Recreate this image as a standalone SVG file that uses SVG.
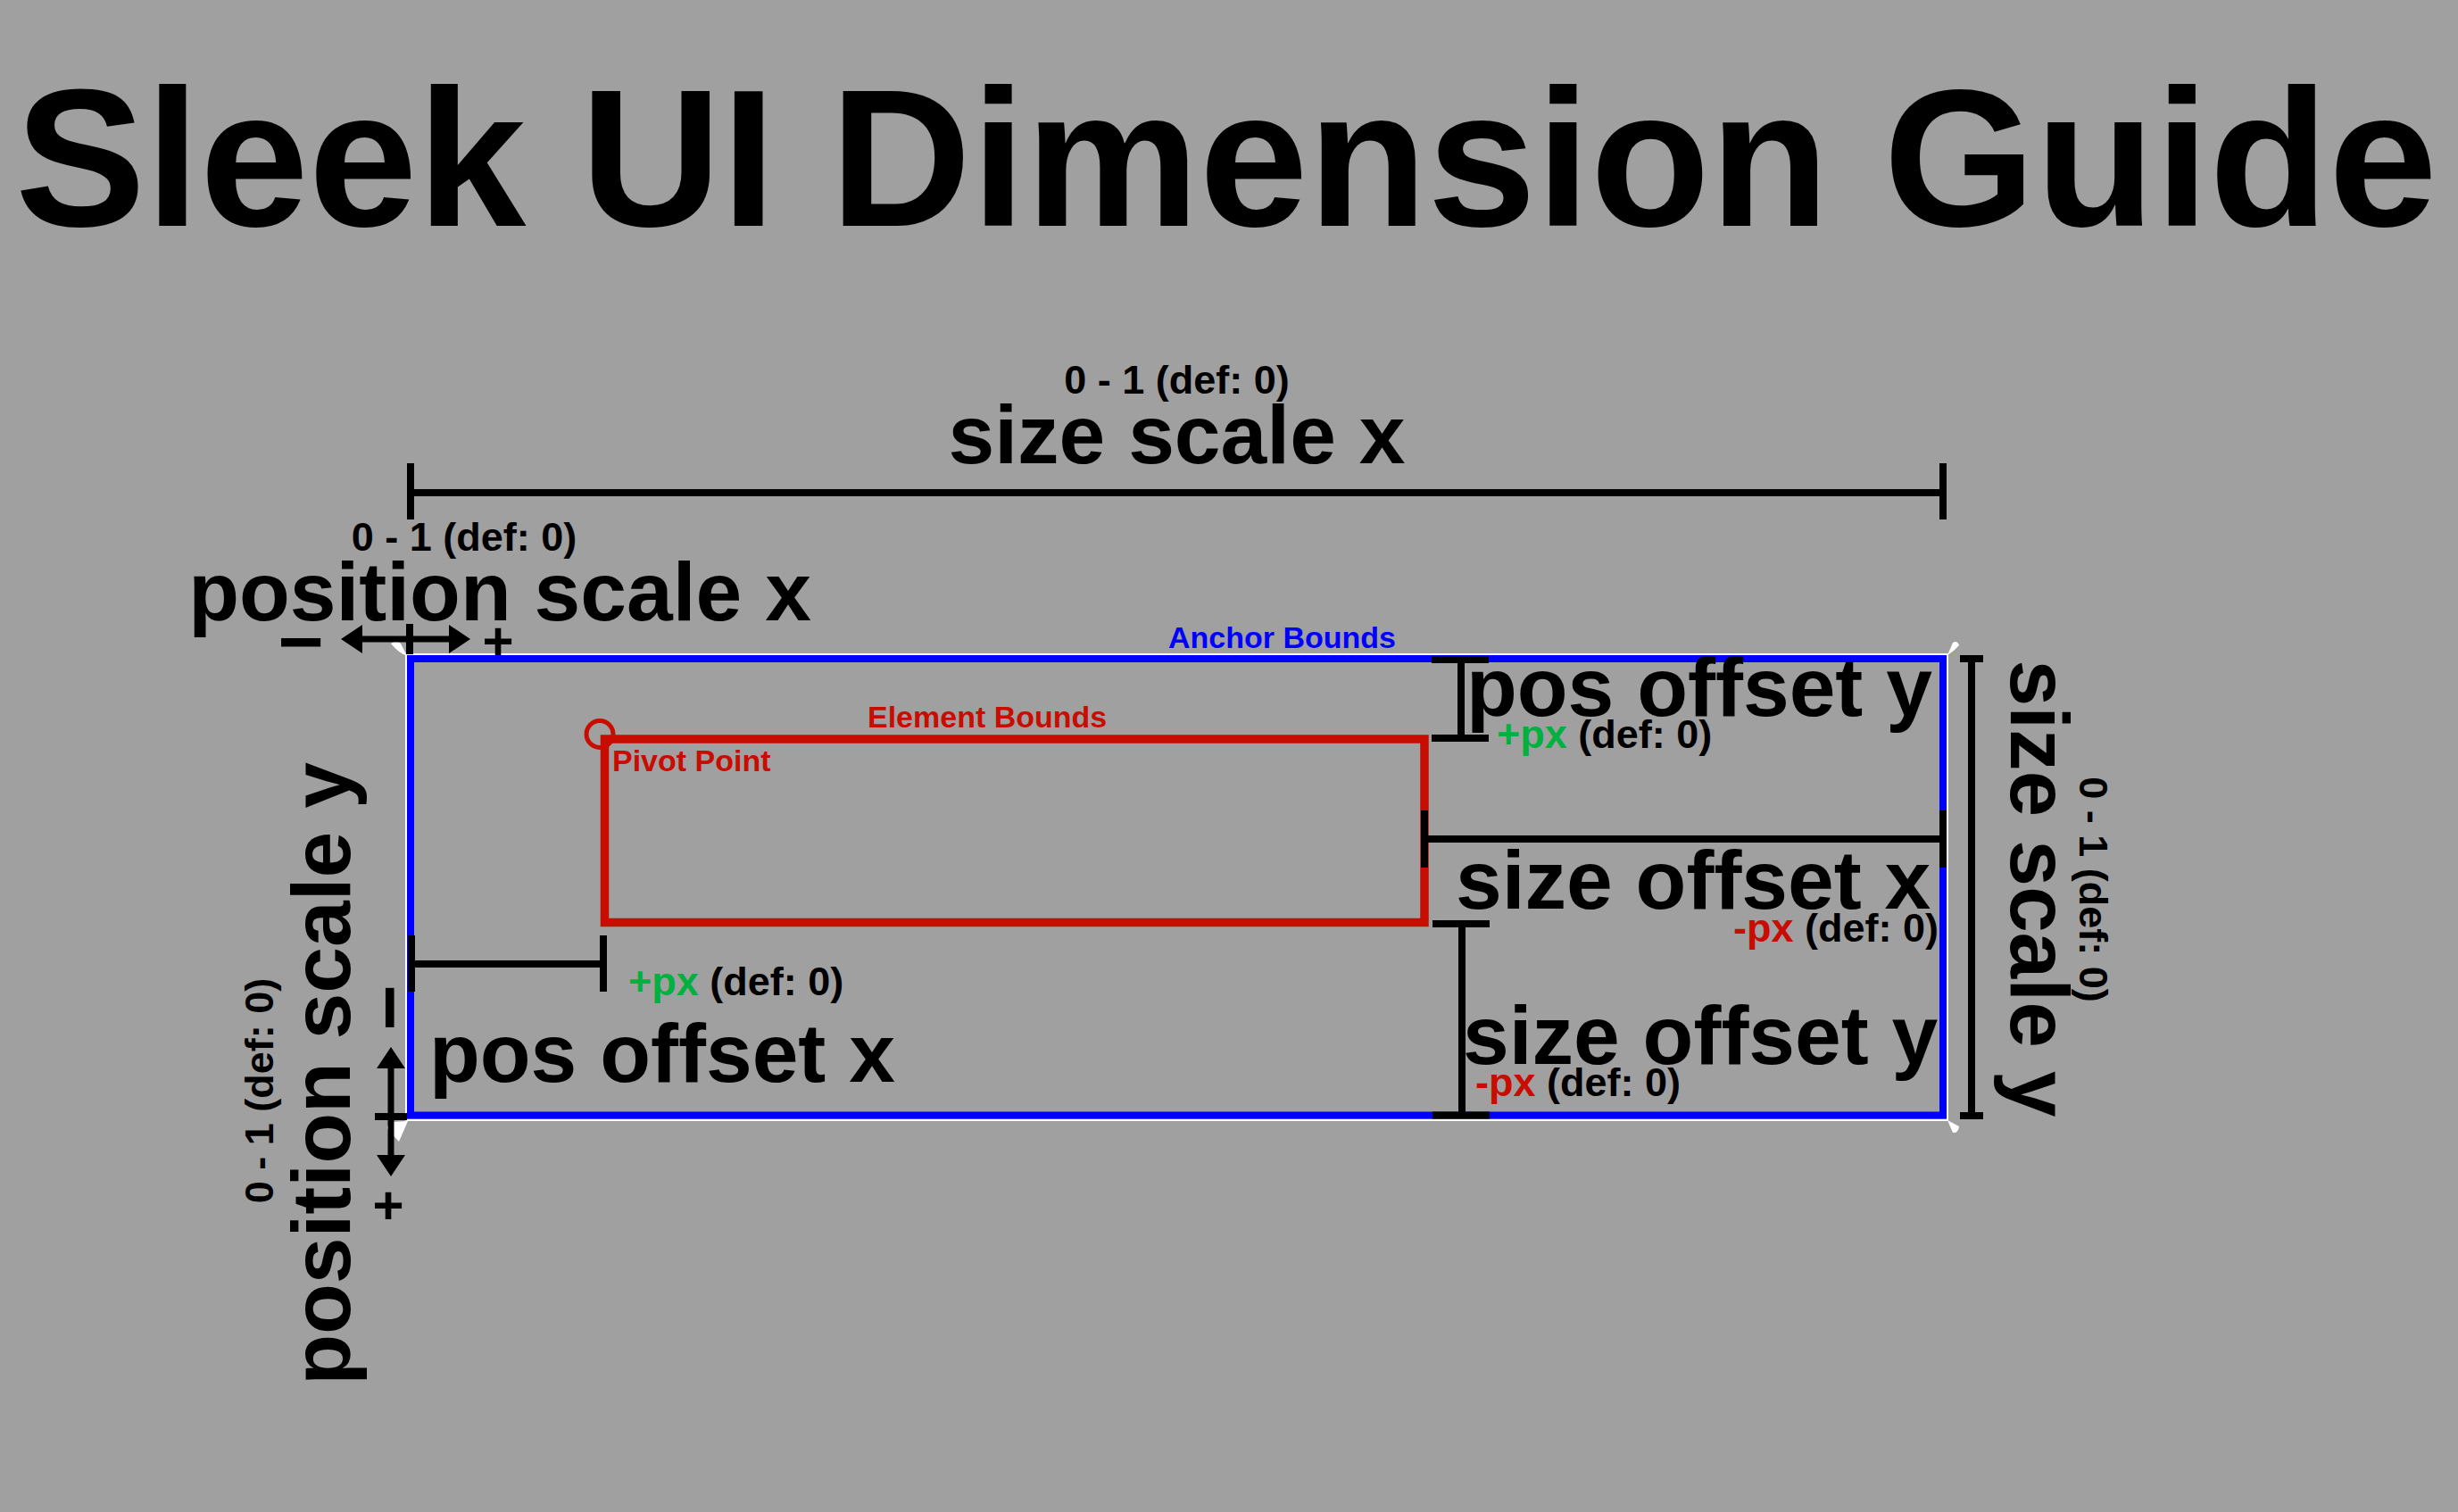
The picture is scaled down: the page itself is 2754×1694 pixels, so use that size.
<svg xmlns="http://www.w3.org/2000/svg" width="2754" height="1694" viewBox="0 0 2754 1694">
<defs>
<style>
text{font-family:"Liberation Sans",Arial,Helvetica,sans-serif;font-weight:bold;fill:#000}
.title{font-size:219px}
.big{font-size:93px}
.range{font-size:45px}
.sub{font-size:45px}
.lbl{font-size:34px}
.dim{stroke:#000;stroke-width:8;fill:none}
.arr{stroke:#000;stroke-width:7;fill:none}
.g{fill:#00B140}
.r{fill:#C80C00}
.corner{fill:#fff}
</style>
<marker id="ah" markerUnits="userSpaceOnUse" markerWidth="24" markerHeight="32" refX="11" refY="16" orient="auto-start-reverse" viewBox="0 0 24 32"><path d="M0,0 L24,16 L0,32 Z" fill="#000"/></marker>
</defs>
<rect x="0" y="0" width="2754" height="1694" fill="#A0A0A0"/>
<text id="title" class="title" x="17" y="253">Sleek UI Dimension Guide</text>

<g id="anchor-bounds">
<rect x="455" y="733" width="1727" height="522" fill="none" stroke="#fff" stroke-width="2"/>
<rect x="460" y="738" width="1717" height="511.5" fill="none" stroke="#0000FF" stroke-width="8"/>
<path class="corner" d="M438,721 Q444,716 449,721 L456,735 Q446,731 438,721 Z"/>
<path class="corner" d="M2182,734 L2188,720 Q2193,717 2195,723 Q2190,729 2182,734 Z"/>
<path class="corner" d="M2182,1255 L2195,1262 Q2194,1270 2188,1269 Z"/>
<path class="corner" d="M457,1256 L440,1257 Q431,1262 435,1266 L447,1279 Z"/>
<text class="lbl" x="1309" y="726" fill="#0000FF" style="fill:#0000FF">Anchor Bounds</text>
</g>

<g id="element-bounds">
<rect x="677.5" y="828" width="918.5" height="205.5" fill="none" stroke="#C80C00" stroke-width="9.5"/>
<text class="lbl r" x="972" y="815">Element Bounds</text>
</g>

<g id="pivot-point">
<circle cx="672" cy="822.5" r="15" fill="none" stroke="#C80C00" stroke-width="5"/>
<text class="lbl r" x="686" y="864">Pivot Point</text>
</g>

<g id="connectors">
<!-- size scale x -->
<line class="dim" x1="460" y1="552" x2="2177" y2="552"/>
<line class="dim" x1="460" y1="519" x2="460" y2="582"/>
<line class="dim" x1="2177" y1="519" x2="2177" y2="582"/>
<!-- size scale y -->
<line class="dim" x1="2209" y1="738" x2="2209" y2="1250"/>
<line class="dim" x1="2196" y1="738" x2="2222" y2="738"/>
<line class="dim" x1="2196" y1="1250" x2="2222" y2="1250"/>
<!-- pos offset y -->
<line class="dim" x1="1637" y1="739" x2="1637" y2="827"/>
<line class="dim" x1="1604" y1="739" x2="1668" y2="739"/>
<line class="dim" x1="1604" y1="827" x2="1668" y2="827"/>
<!-- size offset x -->
<line class="dim" x1="1596" y1="940" x2="2177" y2="940"/>
<line class="dim" x1="1596" y1="908" x2="1596" y2="972"/>
<line class="dim" x1="2177" y1="908" x2="2177" y2="972"/>
<!-- size offset y -->
<line class="dim" x1="1638" y1="1035" x2="1638" y2="1249.5"/>
<line class="dim" x1="1605" y1="1035" x2="1669" y2="1035"/>
<line class="dim" x1="1605" y1="1249.5" x2="1669" y2="1249.5"/>
<!-- pos offset x -->
<line class="dim" x1="460" y1="1080" x2="677" y2="1080"/>
<line class="dim" x1="461" y1="1048" x2="461" y2="1111"/>
<line class="dim" x1="676" y1="1048" x2="676" y2="1111"/>
<!-- position scale x arrow -->
<line class="arr" x1="395" y1="716" x2="514" y2="716" marker-start="url(#ah)" marker-end="url(#ah)"/>
<line class="dim" x1="459" y1="699" x2="459" y2="733"/>
<!-- position scale y arrow -->
<line class="arr" x1="438" y1="1186" x2="438" y2="1305" marker-start="url(#ah)" marker-end="url(#ah)"/>
<line class="dim" x1="420" y1="1251" x2="456" y2="1251"/>
</g>

<g id="label-size-scale-x">
<text class="range" x="1318.5" y="441" text-anchor="middle">0 - 1 (def: 0)</text>
<text class="big" x="1318.5" y="519" text-anchor="middle">size scale x</text>
</g>

<g id="label-position-scale-x">
<text class="range" x="520" y="617" text-anchor="middle">0 - 1 (def: 0)</text>
<text class="big" x="560" y="695" text-anchor="middle">position scale x</text>
<text x="337" y="749" text-anchor="middle" style="font-size:88px">−</text>
<text x="558" y="739" text-anchor="middle" style="font-size:60px">+</text>
</g>

<g id="label-position-scale-y">
<text class="range" transform="translate(306,1222) rotate(-90)" x="0" y="0" text-anchor="middle">0 - 1 (def: 0)</text>
<text class="big" transform="translate(392,1203) rotate(-90)" x="0" y="0" text-anchor="middle">position scale y</text>
<text transform="translate(435,1129) rotate(-90)" x="0" y="31" text-anchor="middle" style="font-size:88px">−</text>
<text x="435" y="1371" text-anchor="middle" style="font-size:60px">+</text>
</g>

<g id="label-size-scale-y">
<text class="big" transform="translate(2253,995.5) rotate(90)" x="0" y="0" text-anchor="middle">size scale y</text>
<text class="range" transform="translate(2330,996.5) rotate(90)" x="0" y="0" text-anchor="middle">0 - 1 (def: 0)</text>
</g>

<g id="label-pos-offset-y">
<text class="big" x="1643" y="802">pos offset y</text>
<text class="sub" x="1677" y="838"><tspan class="g">+px</tspan> (def: 0)</text>
</g>

<g id="label-size-offset-x">
<text class="big" x="1631" y="1018">size offset x</text>
<text class="sub" x="2172" y="1055" text-anchor="end"><tspan class="r">-px</tspan> (def: 0)</text>
</g>

<g id="label-size-offset-y">
<text class="big" x="1639" y="1192">size offset y</text>
<text class="sub" x="1653" y="1228"><tspan class="r">-px</tspan> (def: 0)</text>
</g>

<g id="label-pos-offset-x">
<text class="big" x="481" y="1212">pos offset x</text>
<text class="sub" x="704" y="1115"><tspan class="g">+px</tspan> (def: 0)</text>
</g>
</svg>
